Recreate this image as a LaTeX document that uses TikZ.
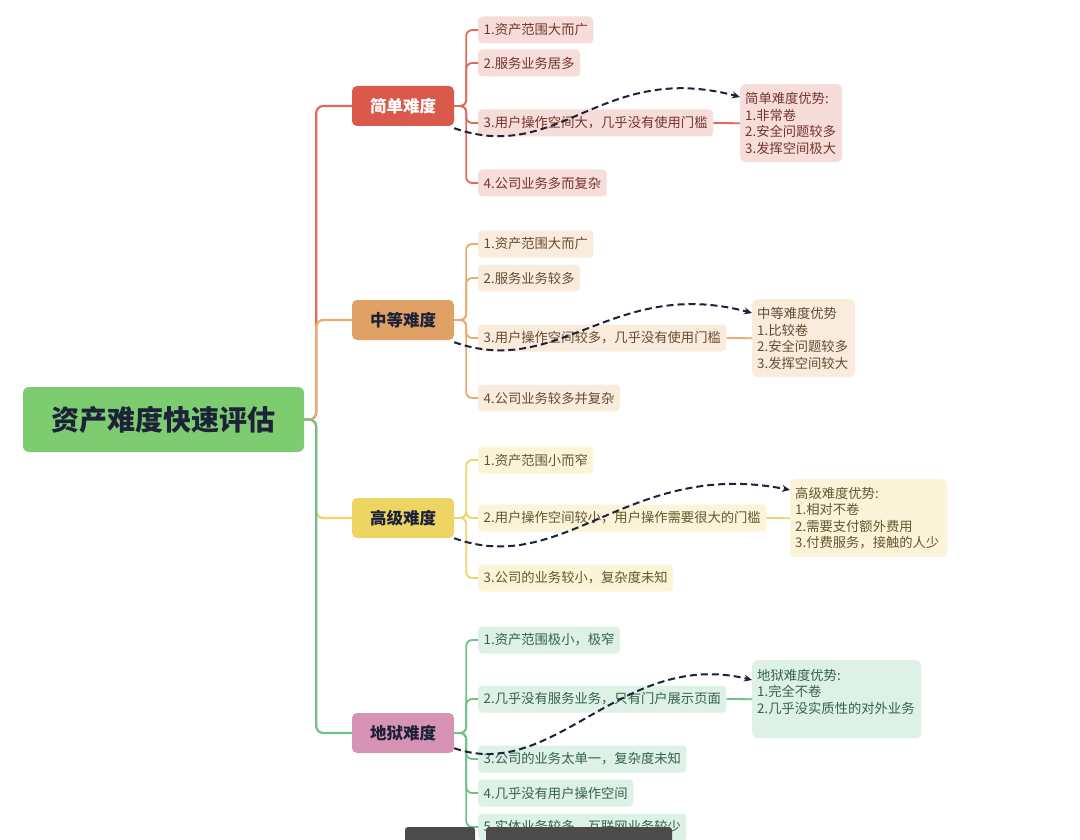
\documentclass[tikz,border=0pt]{standalone}
\usepackage{fontspec}
\setmainfont{Noto Sans CJK SC}
\usetikzlibrary{arrows.meta,positioning}

\definecolor{inkblue}{HTML}{1C2238}
\definecolor{rootgreen}{HTML}{7ECC70}
\definecolor{toolgray}{HTML}{4B4B4B}
% simple
\definecolor{jdnode}{HTML}{D9594A}
\definecolor{jdline}{HTML}{DF6A5A}
\definecolor{jdfill}{HTML}{F7DDDA}
\definecolor{jdtext}{HTML}{74342E}
% medium
\definecolor{zdnode}{HTML}{E0A264}
\definecolor{zdline}{HTML}{EBAA70}
\definecolor{zdfill}{HTML}{F9ECDD}
\definecolor{zdtext}{HTML}{664B30}
% advanced
\definecolor{gjnode}{HTML}{EED462}
\definecolor{gjline}{HTML}{EFD46C}
\definecolor{gjfill}{HTML}{FCF4D9}
\definecolor{gjtext}{HTML}{63572F}
% hell
\definecolor{dynode}{HTML}{D693B5}
\definecolor{dyline}{HTML}{6FC089}
\definecolor{dyfill}{HTML}{DDF1E6}
\definecolor{dytext}{HTML}{35624A}

\tikzset{
  leaf/.style={rounded corners=4pt, minimum height=27pt, inner xsep=5.5pt, inner ysep=0pt,
    anchor=west, font=\fontsize{13.3}{16}\selectfont},
  branch/.style={rounded corners=5pt, minimum width=102pt, minimum height=40pt,
    font=\fontsize{16.5}{18}\selectfont\bfseries},
  advbox/.style={rounded corners=5pt, anchor=north west, align=left, inner xsep=5pt,
    minimum height=78pt, font=\fontsize{13.3}{16.5}\selectfont},
  link/.style={line width=2.2pt, rounded corners=7pt},
  twig/.style={line width=1.8pt, rounded corners=6pt},
  hint/.style={inkblue, line width=2pt, dash pattern=on 7pt off 4pt,
    -{Stealth[length=8pt,width=7pt]}}
}

\begin{document}
\begin{tikzpicture}[x=1pt,y=-1pt]
      \useasboundingbox (0,0) rectangle (1080,840);
      \clip (0,0) rectangle (1080,840);
      \fill[white] (0,0) rectangle (1080,840);

      \node[rounded corners=6pt, fill=rootgreen, text=inkblue, minimum width=281pt,
        minimum height=65pt, font=\fontsize{28}{30}\selectfont\bfseries] (root) at (163.5,419.5) {资产难度快速评估};

      \node[branch, fill=jdnode, text=white] (jd) at (403,106) {简单难度};
      \node[branch, fill=zdnode, text=inkblue] (zd) at (403,320) {中等难度};
      \node[branch, fill=gjnode, text=inkblue] (gj) at (403,518) {高级难度};
      \node[branch, fill=dynode, text=inkblue] (dy) at (403,733) {地狱难度};

      % trunk
      \draw[link, jdline] (root.east) -- ++(12,0) |- (jd.west);
      \draw[link, zdline] (root.east) -- ++(12,0) |- (zd.west);
      \draw[link, gjline] (root.east) -- ++(12,0) |- (gj.west);
      \draw[link, dyline] (root.east) -- ++(12,0) |- (dy.west);

      % simple
      \node[leaf, fill=jdfill, text=jdtext] (jd1) at (478,30) {1.资产范围大而广};
      \node[leaf, fill=jdfill, text=jdtext] (jd2) at (478,63) {2.服务业务居多};
      \node[leaf, fill=jdfill, text=jdtext] (jd3) at (478,123) {3.用户操作空间大，几乎没有使用门槛};
      \node[leaf, fill=jdfill, text=jdtext] (jd4) at (478,183) {4.公司业务多而复杂};
      \node[advbox, fill=jdfill, text=jdtext, text width=92pt] (jdadv) at (740,84)
        {简单难度优势:\\1.非常卷\\2.安全问题较多\\3.发挥空间极大};
      \foreach \k in {1,...,4} {
        \draw[twig, jdline] (jd.east) -- ++(12,0) |- (jd\k.west);
      }
      \draw[twig, jdline] (jd3.east) -- (jdadv.west);

      % medium
      \node[leaf, fill=zdfill, text=zdtext] (zd1) at (478,244) {1.资产范围大而广};
      \node[leaf, fill=zdfill, text=zdtext] (zd2) at (478,278) {2.服务业务较多};
      \node[leaf, fill=zdfill, text=zdtext] (zd3) at (478,338) {3.用户操作空间较多，几乎没有使用门槛};
      \node[leaf, fill=zdfill, text=zdtext] (zd4) at (478,398) {4.公司业务较多并复杂};
      \node[advbox, fill=zdfill, text=zdtext, text width=93pt] (zdadv) at (752,299)
        {中等难度优势\\1.比较卷\\2.安全问题较多\\3.发挥空间较大};
      \foreach \k in {1,...,4} {
        \draw[twig, zdline] (zd.east) -- ++(12,0) |- (zd\k.west);
      }
      \draw[twig, zdline] (zd3.east) -- (zdadv.west);

      % advanced
      \node[leaf, fill=gjfill, text=gjtext] (gj1) at (478,460) {1.资产范围小而窄};
      \node[leaf, fill=gjfill, text=gjtext] (gj2) at (478,518) {2.用户操作空间较小，用户操作需要很大的门槛};
      \node[leaf, fill=gjfill, text=gjtext] (gj3) at (478,578) {3.公司的业务较小，复杂度未知};
      \node[advbox, fill=gjfill, text=gjtext, text width=147pt] (gjadv) at (790,479)
        {高级难度优势:\\1.相对不卷\\2.需要支付额外费用\\3.付费服务，接触的人少};
      \foreach \k in {1,...,3} {
        \draw[twig, gjline] (gj.east) -- ++(12,0) |- (gj\k.west);
      }
      \draw[twig, gjline] (gj2.east) -- (gjadv.west);

      % hell
      \node[leaf, fill=dyfill, text=dytext] (dy1) at (478,640) {1.资产范围极小，极窄};
      \node[leaf, fill=dyfill, text=dytext] (dy2) at (478,699) {2.几乎没有服务业务，只有门户展示页面};
      \node[leaf, fill=dyfill, text=dytext] (dy3) at (478,759) {3.公司的业务太单一，复杂度未知};
      \node[leaf, fill=dyfill, text=dytext] (dy4) at (478,793) {4.几乎没有用户操作空间};
      \node[leaf, fill=dyfill, text=dytext] (dy5) at (478,827) {5.实体业务较多，互联网业务较少};
      \node[advbox, fill=dyfill, text=dytext, text width=159pt, text depth=49pt] (dyadv) at (752,660)
        {地狱难度优势:\\1.完全不卷\\2.几乎没实质性的对外业务};
      \foreach \k in {1,...,5} {
        \draw[twig, dyline] (dy.east) -- ++(12,0) |- (dy\k.west);
      }
      \draw[twig, dyline] (dy2.east) -- (dyadv.west);

      % dashed hints
      \draw[hint] ([yshift=-2pt]jd.south east) .. controls +(105,37) and +(-138,-37) .. ([yshift=-13pt]jdadv.north west);
      \draw[hint] ([yshift=-2pt]zd.south east) .. controls +(105,37) and +(-138,-37) .. ([yshift=-14pt]zdadv.north west);
      \draw[hint] (gj.south east) .. controls +(110,40) and +(-160,-32) .. ([yshift=-11pt]gjadv.north west);
      \draw[hint] ([yshift=5pt]dy.south east) .. controls +(100,35) and +(-130,-32) .. ([yshift=-20pt]dyadv.north west);

      % viewer toolbar
      \fill[toolgray, rounded corners=3pt] (405,827) rectangle (475,850);
      \fill[toolgray, rounded corners=3pt] (486,827) rectangle (672,850);
\end{tikzpicture}
\end{document}
